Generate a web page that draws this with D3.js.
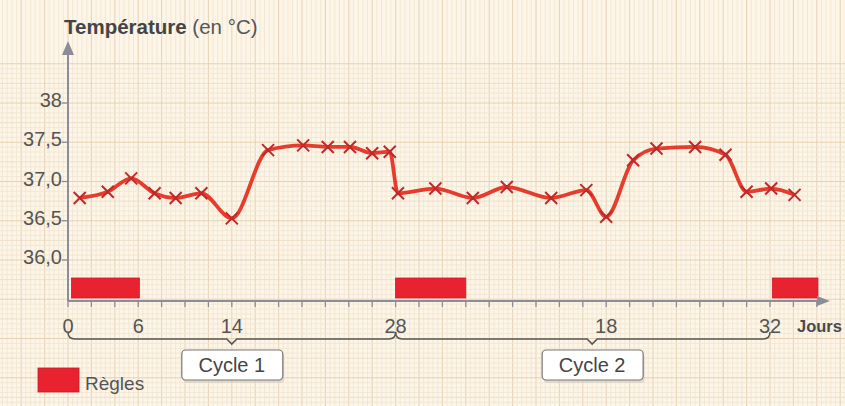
<!DOCTYPE html>
<html><head><meta charset="utf-8">
<script src="https://cdn.jsdelivr.net/npm/d3@7"></script>
<style>body{margin:0;background:#fcf5e8}svg{display:block}</style>
</head><body><svg id="c" width="845" height="406"></svg>
<script>
// ---- data ----
const days  = [1, 3.4, 5.4, 7.4, 9.2, 11.4, 14, 17.1, 20.1, 22.2, 24.1, 26, 27.5, 28.2, 31.4, 34.6, 37.5, 41.3, 44.3, 46, 48.3, 50.3, 53.6, 56.2, 58, 60.1, 62.1];
const temps = [36.79, 36.87, 37.04, 36.85, 36.79, 36.85, 36.53, 37.40, 37.46, 37.44, 37.44, 37.36, 37.38, 36.85, 36.91, 36.79, 36.93, 36.79, 36.89, 36.55, 37.27, 37.42, 37.44, 37.34, 36.87, 36.91, 36.83];
const periodStart = [0.3, 28, 60.2];
const periodEnd   = [6.1, 34, 64.1];
const xTickDays   = [0, 6, 14, 28, 46, 60];
const xTickLabels = ["0", "6", "14", "28", "18", "32"];
const yTickValues = [36, 36.5, 37, 37.5, 38];
const yTickLabels = ["36,0", "36,5", "37,0", "37,5", "38"];
const cycleLabels = ["Cycle 1", "Cycle 2"];
const cycleStart  = [0, 28];
const cycleEnd    = [28, 60];
const cycleMid    = [14, 44.8];

// ---- layout ----
const W = 845, H = 406;
const svg = d3.select("#c");
const x = d3.scaleLinear().domain([0, 65]).range([68, 828.5]);
const y = d3.scaleLinear().domain([36, 38]).range([260, 103]);
const axisY = 301;
const FONT = "'Liberation Sans', Arial, sans-serif";

// background graph paper
svg.append("rect").attr("width", W).attr("height", H).attr("fill", "#fcf5e8");
const g0 = svg.append("g");
const dx = (x(2) - x(0)) / 5;
for (let i = -20; x(0) + i * dx < W; i++) {
  const xx = x(0) + i * dx;
  g0.append("line").attr("x1", xx).attr("x2", xx).attr("y1", 0).attr("y2", H)
    .attr("stroke", i % 5 === 0 ? "#e8d5b8" : "#f0e4cf").attr("stroke-width", i % 5 === 0 ? 1.1 : 0.8);
}
const dy = (y(36) - y(36.5)) / 8;
for (let j = -40; j < 60; j++) {
  const yy = y(36) + j * dy;
  if (yy < 0 || yy > H) continue;
  g0.append("line").attr("y1", yy).attr("y2", yy).attr("x1", 0).attr("x2", W)
    .attr("stroke", j % 8 === 0 ? "#e6d2b2" : (j % 4 === 0 ? "#ebdbc2" : "#f1e5d2"))
    .attr("stroke-width", j % 8 === 0 ? 1.2 : 0.8);
}

// period bars
svg.append("g").selectAll("rect").data(periodStart).join("rect")
  .attr("x", (d) => x(d)).attr("width", (d, i) => x(periodEnd[i]) - x(d))
  .attr("y", 278).attr("height", 20)
  .attr("fill", "#e8222f").attr("stroke", "#d01a26").attr("stroke-width", 0.8);

// axes
const axisColor = "#8c8d98";
svg.append("line").attr("x1", x(0)).attr("x2", 820).attr("y1", axisY).attr("y2", axisY)
  .attr("stroke", axisColor).attr("stroke-width", 2);
svg.append("path").attr("d", `M830,${axisY} L817,${axisY - 5} L817,${axisY + 5} Z`).attr("fill", axisColor);
svg.append("line").attr("x1", x(0)).attr("x2", x(0)).attr("y1", axisY).attr("y2", 52)
  .attr("stroke", axisColor).attr("stroke-width", 2);
svg.append("path").attr("d", `M${x(0)},41 L${x(0) - 6},55 L${x(0) + 6},55 Z`).attr("fill", axisColor);

// x minor ticks every 2 days
const minor = d3.range(0, 65, 2);
svg.append("g").selectAll("line").data(minor).join("line")
  .attr("x1", (d) => x(d)).attr("x2", (d) => x(d)).attr("y1", axisY).attr("y2", axisY + 6)
  .attr("stroke", axisColor).attr("stroke-width", 1.3);

// x tick labels
svg.append("g").selectAll("text").data(xTickDays).join("text")
  .attr("x", (d) => x(d)).attr("y", 333).attr("text-anchor", "middle")
  .attr("font-family", FONT).attr("font-size", 20).attr("fill", "#555")
  .text((d, i) => xTickLabels[i]);
svg.append("text").attr("x", 797).attr("y", 332).attr("font-family", FONT)
  .attr("font-size", 16.5).attr("font-weight", "bold").attr("fill", "#4a4a4a").text("Jours");

// y ticks
svg.append("g").selectAll("line").data(yTickValues).join("line")
  .attr("x1", x(0) - 6).attr("x2", x(0)).attr("y1", (d) => y(d)).attr("y2", (d) => y(d))
  .attr("stroke", axisColor).attr("stroke-width", 1.3);
svg.append("g").selectAll("text").data(yTickValues).join("text")
  .attr("x", 62).attr("y", (d) => y(d) + 4).attr("text-anchor", "end")
  .attr("font-family", FONT).attr("font-size", 20).attr("fill", "#555")
  .text((d, i) => yTickLabels[i]);

// title
const t = svg.append("text").attr("x", 64).attr("y", 34).attr("font-family", FONT)
  .attr("font-size", 20.5).attr("fill", "#444");
t.append("tspan").attr("font-weight", "bold").text("Température");
t.append("tspan").attr("fill", "#555").text(" (en °C)");

// temperature line
const line = d3.line().x((d, i) => x(days[i])).y((d) => y(d)).curve(d3.curveMonotoneX);
svg.append("path").datum(temps).attr("d", line).attr("fill", "none")
  .attr("stroke", "#e63c2c").attr("stroke-width", 3.8).attr("stroke-linejoin", "round");
const s = 6;
svg.append("g").selectAll("path").data(temps).join("path")
  .attr("d", (d, i) => {
    const cx = x(days[i]), cy = y(d);
    return `M${cx - s},${cy - s}L${cx + s},${cy + s}M${cx - s},${cy + s}L${cx + s},${cy - s}`;
  })
  .attr("stroke", "#c0282a").attr("stroke-width", 2).attr("fill", "none");

// cycle braces
const by = 339, r = 7;
cycleLabels.forEach((lab, i) => {
  const x0 = x(cycleStart[i]), x1 = x(cycleEnd[i]), xm = x(cycleMid[i]);
  svg.append("path")
    .attr("d", `M${x0},${by - 7} Q${x0},${by} ${x0 + r},${by} L${xm - 5},${by} L${xm},${by + 5} L${xm + 5},${by} L${x1 - r},${by} Q${x1},${by} ${x1},${by - 7}`)
    .attr("fill", "none").attr("stroke", "#555").attr("stroke-width", 1.6);
  svg.append("rect").attr("x", xm - 50 + 1.5).attr("y", 351 + 2).attr("width", 101).attr("height", 30)
    .attr("rx", 4).attr("fill", "#cfc8bc").attr("opacity", 0.6);
  svg.append("rect").attr("x", xm - 50).attr("y", 350).attr("width", 101).attr("height", 30)
    .attr("rx", 4).attr("fill", "#fff").attr("stroke", "#777").attr("stroke-width", 1.2);
  svg.append("text").attr("x", xm).attr("y", 372).attr("text-anchor", "middle")
    .attr("font-family", FONT).attr("font-size", 20).attr("fill", "#444").text(lab);
});

// legend
svg.append("rect").attr("x", 38).attr("y", 368).attr("width", 41).attr("height", 24)
  .attr("fill", "#e8222f").attr("stroke", "#c91b26").attr("stroke-width", 0.8);
svg.append("text").attr("x", 85).attr("y", 390).attr("font-family", FONT)
  .attr("font-size", 19).attr("fill", "#555").text("Règles");
</script></body></html>
